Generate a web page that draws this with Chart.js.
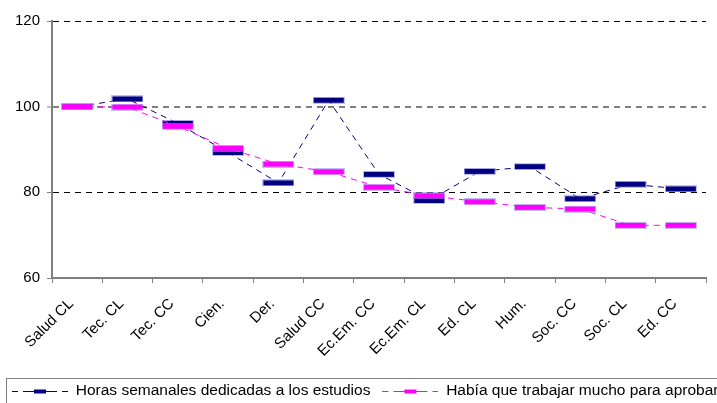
<!DOCTYPE html>
<html>
<head>
<meta charset="utf-8">
<script src="https://cdn.jsdelivr.net/npm/chart.js@4.4.1/dist/chart.umd.min.js"></script>
<style>
    html, body { margin: 0; padding: 0; background: #fff; overflow: hidden; }
    #wrap { position: relative; width: 717px; height: 403px; overflow: hidden; }
</style>
</head>
<body>
<div id="wrap"><canvas id="studyChart" width="760" height="403"></canvas></div>
<script>
// Categories (x axis)
const categories = ['Salud CL', 'Tec. CL', 'Tec. CC', 'Cien.', 'Der.', 'Salud CC',
    'Ec.Em. CC', 'Ec.Em. CL', 'Ed. CL', 'Hum.', 'Soc. CC', 'Soc. CL', 'Ed. CC'];

// Series values (index, Salud CL = 100)
const horasEstudio = [100, 101.8, 96.1, 89.3, 82.2, 101.5, 84.2, 78.1, 84.9, 86.0, 78.5, 81.9, 80.8];
const trabajarMucho = [100, 99.9, 95.4, 90.3, 86.6, 84.8, 81.2, 79.2, 77.8, 76.5, 76.1, 72.3, 72.3];

const seriesNames = ['Horas semanales dedicadas a los estudios', 'Había que trabajar mucho para aprobar'];

// Y axis range
const yMin = 60;
const yMax = 120;
const yStep = 20;

const navy = '#000080';
const magenta = '#FF00FF';

// Wide flat marker used on each point (solid bar with a faint light edge)
function makeMarker(color) {
    const c = document.createElement('canvas');
    c.width = 32;
    c.height = 7;
    const ctx = c.getContext('2d');
    ctx.strokeStyle = 'rgba(150,150,230,0.6)';
    ctx.lineWidth = 1;
    ctx.strokeRect(0.5, 0.5, 31, 6);
    ctx.fillStyle = color;
    ctx.fillRect(1, 1, 30, 5);
    return c;
}

// Legend symbol: dashed line with a small marker in the middle
function makeLegendSymbol(color) {
    const c = document.createElement('canvas');
    c.width = 56;
    c.height = 8;
    const ctx = c.getContext('2d');
    ctx.strokeStyle = color;
    ctx.lineWidth = 1;
    ctx.beginPath();
    ctx.moveTo(0, 4.5); ctx.lineTo(6, 4.5);
    ctx.moveTo(11, 4.5); ctx.lineTo(45, 4.5);
    ctx.moveTo(50, 4.5); ctx.lineTo(56, 4.5);
    ctx.stroke();
    ctx.fillStyle = color;
    ctx.fillRect(22, 2.5, 12, 4);
    return c;
}

const colors = [navy, magenta];
const legendSymbols = colors.map(makeLegendSymbol);

// Grey frame around the legend
const legendFrame = {
    id: 'legendFrame',
    afterDraw(chart) {
        const lg = chart.legend;
        const ctx = chart.ctx;
        ctx.save();
        ctx.strokeStyle = '#808080';
        ctx.lineWidth = 1;
        ctx.strokeRect(6.5, Math.round(lg.top + 6.75) + 0.5, 900, 100);
        ctx.restore();
    }
};

Chart.defaults.font.family = '"Liberation Sans", Arial, sans-serif';
Chart.defaults.color = '#000';

const ctx = document.getElementById('studyChart').getContext('2d');
new Chart(ctx, {
    type: 'line',
    data: {
        labels: categories,
        datasets: [
            {
                label: seriesNames[0],
                data: horasEstudio,
                borderColor: navy,
                borderWidth: 1,
                borderDash: [6, 5],
                pointStyle: makeMarker(navy),
                pointRadius: 3,
                order: 2,
                fill: false,
                tension: 0
            },
            {
                label: seriesNames[1],
                data: trabajarMucho,
                borderColor: magenta,
                borderWidth: 1,
                borderDash: [6, 5],
                pointStyle: makeMarker(magenta),
                pointRadius: 3,
                order: 1,
                fill: false,
                tension: 0
            }
        ]
    },
    options: {
        responsive: false,
        animation: false,
        layout: {
            padding: { left: 0, right: 0, top: 21, bottom: -5.75 }
        },
        scales: {
            x: {
                type: 'category',
                offset: true,
                grid: {
                    offset: true,
                    drawOnChartArea: false,
                    tickLength: 5,
                    tickColor: '#808080',
                    tickWidth: 1
                },
                border: { color: '#808080', width: 2 },
                ticks: {
                    autoSkip: false,
                    minRotation: 45,
                    maxRotation: 45,
                    padding: 12,
                    labelOffset: -6,
                    font: { size: 15 }
                },
                afterFit(scale) { scale.height = 93.25; }
            },
            y: {
                min: yMin,
                max: yMax,
                ticks: {
                    stepSize: yStep,
                    padding: 7,
                    font: { size: 15 }
                },
                grid: {
                    color: c => c.tick && c.tick.value === 100 ? '#808080'
                        : (c.tick && c.tick.value === yMin ? 'rgba(0,0,0,0)' : '#000'),
                    lineWidth: c => c.tick && c.tick.value === 100 ? 2 : 1,
                    tickLength: 5,
                    tickColor: '#808080',
                    tickWidth: 1,
                    tickBorderDash: []
                },
                border: { color: '#808080', width: 2, dash: [6, 5] },
                afterFit(scale) { scale.width = 52; }
            },
            yRight: {
                position: 'right',
                display: true,
                grid: { display: false, drawTicks: false },
                border: { display: false },
                ticks: { display: false },
                afterFit(scale) { scale.width = 54; }
            }
        },
        plugins: {
            legend: {
                position: 'bottom',
                align: 'start',
                labels: {
                    usePointStyle: true,
                    pointStyleWidth: 56,
                    padding: 12,
                    color: '#000',
                    font: { size: 15.5 },
                    generateLabels: chart => chart.data.datasets.map((ds, i) => ({
                        text: ds.label,
                        pointStyle: legendSymbols[i],
                        fillStyle: colors[i],
                        strokeStyle: colors[i],
                        lineWidth: 0,
                        hidden: false,
                        datasetIndex: i
                    }))
                }
            },
            tooltip: { enabled: false }
        }
    },
    plugins: [legendFrame]
});
</script>
</body>
</html>
